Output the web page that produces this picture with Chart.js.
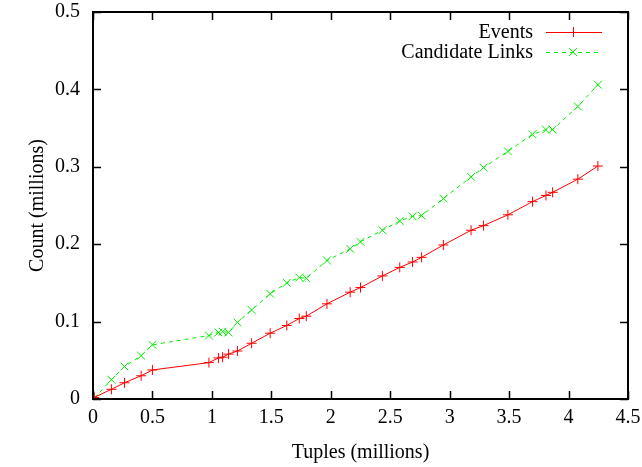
<!DOCTYPE html>
<html>
<head>
<meta charset="utf-8">
<script src="https://cdn.jsdelivr.net/npm/chart.js@4/dist/chart.umd.min.js"></script>
<style>
  html, body { margin: 0; padding: 0; background: #fff; }
  #wrap { width: 642px; height: 467px; }
</style>
</head>
<body>
<div id="wrap"><canvas id="lineChart" width="642" height="467"></canvas></div>
<script>
// tuples (millions)
const tuples = [0.01, 0.155, 0.265, 0.405, 0.50, 0.975, 1.055, 1.09, 1.14, 1.215, 1.334, 1.49, 1.63, 1.735, 1.794, 1.968, 2.163, 2.25, 2.434, 2.58, 2.688, 2.764, 2.947, 3.18, 3.285, 3.49, 3.697, 3.81, 3.866, 4.078, 4.247];
const events = [0.002, 0.0125, 0.021, 0.030, 0.0375, 0.047, 0.053, 0.054, 0.058, 0.062, 0.072, 0.085, 0.095, 0.104, 0.107, 0.123, 0.138, 0.144, 0.159, 0.170, 0.177, 0.183, 0.199, 0.218, 0.224, 0.238, 0.255, 0.263, 0.267, 0.284, 0.301];
const candidateLinks = [0.001, 0.025, 0.042, 0.056, 0.070, 0.082, 0.086, 0.087, 0.086, 0.099, 0.115, 0.136, 0.150, 0.157, 0.156, 0.179, 0.194, 0.203, 0.218, 0.230, 0.236, 0.237, 0.259, 0.287, 0.299, 0.320, 0.342, 0.348, 0.348, 0.378, 0.406];

const xTicks = [0, 0.5, 1, 1.5, 2, 2.5, 3, 3.5, 4, 4.5];
const yTicks = [0, 0.1, 0.2, 0.3, 0.4, 0.5];

const FONT = "'Liberation Serif', 'DejaVu Serif', serif";
const FONT_SIZE = 20;
const RED = "#ff0000";
const GREEN = "#00ee00";

const toPoints = (ys) => tuples.map((x, i) => ({ x: x, y: ys[i] }));

// gnuplot style frame: border plus inward ticks on all four sides
const framePlugin = {
  id: "frame",
  afterDatasetsDraw(chart) {
    const { ctx, chartArea: a, scales } = chart;
    ctx.save();
    ctx.strokeStyle = "#000";
    ctx.lineWidth = 2;
    ctx.strokeRect(a.left, a.top, a.right - a.left, a.bottom - a.top);
    ctx.lineWidth = 1.5;
    ctx.beginPath();
    xTicks.forEach((v) => {
      const px = Math.round(scales.x.getPixelForValue(v)) + 0.5;
      ctx.moveTo(px, a.bottom); ctx.lineTo(px, a.bottom - 8);
      ctx.moveTo(px, a.top); ctx.lineTo(px, a.top + 8);
    });
    yTicks.forEach((v) => {
      const py = Math.round(scales.y.getPixelForValue(v)) + 0.5;
      ctx.moveTo(a.left, py); ctx.lineTo(a.left + 8, py);
      ctx.moveTo(a.right, py); ctx.lineTo(a.right - 8, py);
    });
    ctx.stroke();
    ctx.restore();
  }
};

// legend in the top right corner, text right aligned, sample on the right
const keyPlugin = {
  id: "key",
  afterDraw(chart) {
    const { ctx } = chart;
    ctx.save();
    ctx.font = FONT_SIZE + "px " + FONT;
    ctx.textAlign = "right";
    ctx.textBaseline = "middle";
    chart.data.datasets.forEach((ds, i) => {
      const y = 32 + i * 20;
      ctx.fillStyle = "#000";
      ctx.fillText(ds.label, 533, y + 1);
      ctx.strokeStyle = ds.borderColor;
      ctx.lineWidth = 1;
      ctx.setLineDash(ds.borderDash || []);
      ctx.beginPath();
      ctx.moveTo(546, y + 0.5); ctx.lineTo(602, y + 0.5);
      ctx.stroke();
      ctx.setLineDash([]);
      ctx.beginPath();
      if (ds.pointStyle === "cross") {
        ctx.moveTo(573 - 5, y + 0.5); ctx.lineTo(573 + 5, y + 0.5);
        ctx.moveTo(573.5, y - 5); ctx.lineTo(573.5, y + 5);
      } else {
        ctx.moveTo(569, y - 4); ctx.lineTo(577, y + 4);
        ctx.moveTo(577, y - 4); ctx.lineTo(569, y + 4);
      }
      ctx.stroke();
    });
    ctx.restore();
  }
};

new Chart(document.getElementById("lineChart").getContext("2d"), {
  type: "line",
  data: {
    datasets: [
      {
        label: "Events",
        data: toPoints(events),
        borderColor: RED,
        backgroundColor: RED,
        borderWidth: 1,
        pointStyle: "cross",
        pointRadius: 5,
        pointBorderWidth: 1,
        fill: false,
        tension: 0,
      },
      {
        label: "Candidate Links",
        data: toPoints(candidateLinks),
        borderColor: GREEN,
        backgroundColor: GREEN,
        borderWidth: 1,
        borderDash: [4, 4],
        pointStyle: "crossRot",
        pointRadius: 5.5,
        pointBorderWidth: 1,
        fill: false,
        tension: 0,
      },
    ],
  },
  options: {
    responsive: false,
    animation: false,
    layout: { padding: { top: 0, right: 0, left: 0, bottom: 0 } },
    plugins: {
      legend: { display: false },
      tooltip: { enabled: false },
    },
    scales: {
      x: {
        type: "linear",
        min: 0,
        max: 4.5,
        afterBuildTicks: (s) => { s.ticks = xTicks.map((v) => ({ value: v })); },
        afterFit: (s) => { s.height = 68; s.paddingRight = 14; },
        grid: { display: false, drawTicks: false },
        border: { display: false },
        ticks: {
          color: "#000",
          padding: 7,
          maxRotation: 0,
          font: { family: FONT, size: FONT_SIZE },
          callback: (v) => String(v),
        },
        title: {
          display: true,
          text: "Tuples (millions)",
          color: "#000",
          font: { family: FONT, size: FONT_SIZE },
          padding: { top: 0, bottom: 2 },
        },
      },
      y: {
        type: "linear",
        min: 0,
        max: 0.5,
        afterBuildTicks: (s) => { s.ticks = yTicks.map((v) => ({ value: v })); },
        afterFit: (s) => { s.width = 93; s.paddingTop = 12; },
        grid: { display: false, drawTicks: false },
        border: { display: false },
        ticks: {
          color: "#000",
          padding: 13,
          font: { family: FONT, size: FONT_SIZE },
          callback: (v) => String(v),
        },
        title: {
          display: true,
          text: "Count (millions)",
          color: "#000",
          font: { family: FONT, size: FONT_SIZE },
          padding: { top: 26, bottom: 0 },
        },
      },
    },
  },
  plugins: [framePlugin, keyPlugin],
});
</script>
</body>
</html>
